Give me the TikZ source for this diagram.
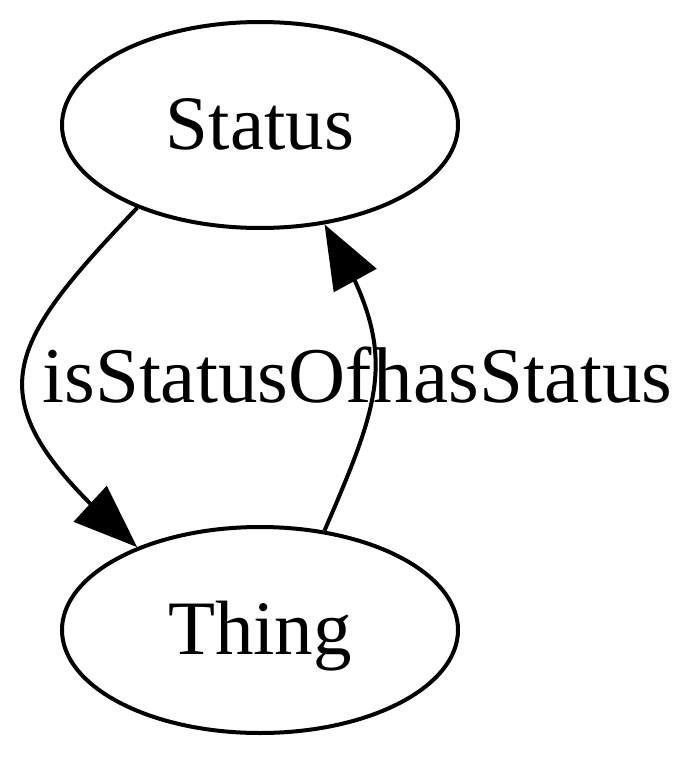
\documentclass[tikz,border=0pt]{standalone}
\usepackage{fontspec}
\setmainfont{Liberation Serif}
\usetikzlibrary{arrows.meta,bending,shapes.geometric}
\begin{document}
\begin{tikzpicture}[x=1pt,y=-1pt,
  state/.style={ellipse,draw,line width=4pt,minimum width=396pt,minimum height=206pt,inner sep=0pt,
    font=\fontsize{77}{80}\selectfont,text height=48pt,text depth=0pt},
  edge/.style={line width=4pt,-{Triangle[length=64pt,width=48pt,flex]}},
  lbl/.style={anchor=base,inner sep=0pt,font=\fontsize{79}{82}\selectfont}]
\useasboundingbox (0,0) rectangle (700,757);
\node[state] (S) at (260,125) {Status};
\node[state] (T) at (260,630) {Thing};
\draw[edge] (S.214) .. controls (-3,355) and (-29,402) .. (T.146);
\draw[edge] (T.57) .. controls (385,390) and (400,350) .. (S.303);
\node[lbl] (l1) at (207,402) {isStatusOf};
\node[lbl] (l2) at (523,402) {hasStatus};
\end{tikzpicture}
\end{document}
